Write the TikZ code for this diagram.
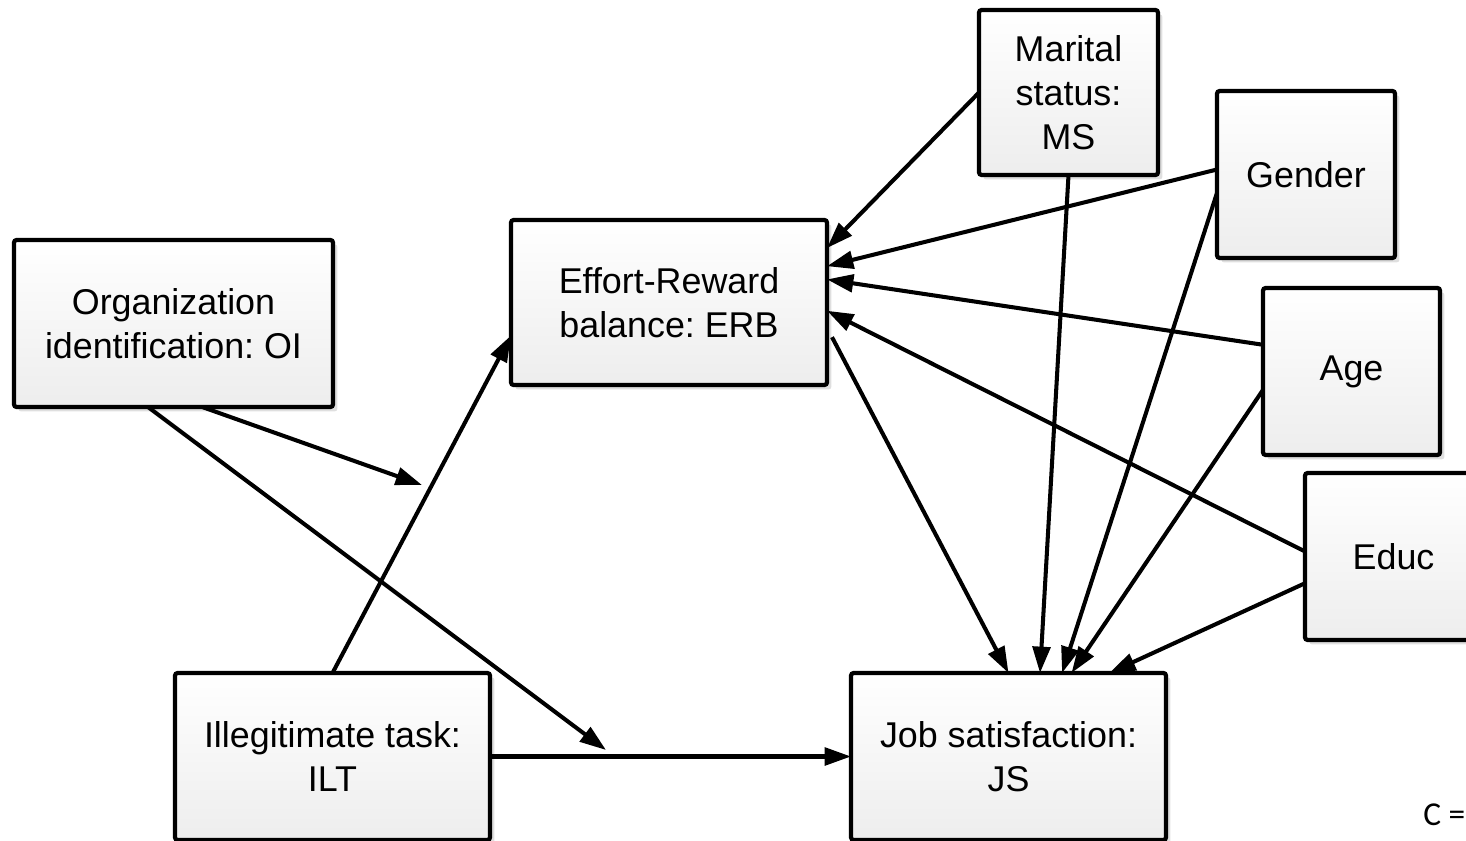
\documentclass[tikz,border=0pt]{standalone}
\usepackage{fontspec}
\setmainfont{Liberation Sans}
\newfontfamily\notefont{Carlito}
\usetikzlibrary{arrows.meta,shadows,calc}
\frenchspacing

\tikzset{
  px/.style={x=0.02cm,y=-0.02cm},
  varbox/.style 2 args={draw=black, line width=2.4pt, rounded corners=1.5pt,
    top color=white, bottom color=gray!14, shading angle=0,
    drop shadow={shadow xshift=2.5pt, shadow yshift=-2.5pt, fill=gray!25, opacity=1},
    minimum width={#1*0.02cm}, minimum height={#2*0.02cm},
    inner sep=0pt, outer sep=0pt, align=center,
    font=\fontsize{20.4}{25}\selectfont},
  path/.style={line width=2.3pt, -{Triangle[length=15pt,width=10pt]}},
}

\begin{document}
\begin{tikzpicture}[px]
\useasboundingbox (0,0) rectangle (1466,841);
\clip (0,0) rectangle (1466,841);

% variables
\node[varbox={319}{167}] (oi)  at (173.5,323.5) {Organization\\identification: OI};
\node[varbox={316}{165}] (erb) at (669,302.5)   {Effort-Reward\\balance: ERB};
\node[varbox={179}{165}] (ms)  at (1068.5,92.5) {Marital\\status:\\MS};
\node[varbox={178}{167}] (gen) at (1306,174.5)  {Gender};
\node[varbox={177}{167}] (age) at (1351.5,371.5){Age};
\node[varbox={177}{167}] (edu) at (1393.5,556.5){Educ};
\node[varbox={315}{167}] (ilt) at (332.5,756.5) {Illegitimate task:\\ILT};
\node[varbox={315}{167}] (js)  at (1008.5,756.5){Job satisfaction:\\JS};

% free ends of the moderation arrows
\coordinate (modA) at (422,485);
\coordinate (modB) at (606,750);

% moderation by organization identification
\draw[path] ($(oi.south west)!0.59!(oi.south east)$) -- (modA);
\draw[path] ($(oi.south west)!0.42!(oi.south east)$) -- (modB);

% main paths
\draw[path] (ilt.north) -- ($(erb.north west)!0.70!(erb.south west)$);
\draw[path] (ilt.east) -- (js.west);
\draw[path] ($(erb.north east)!0.71!(erb.south east)+(5,0)$) -- (js.north);

% control variables to ERB
\draw[path] (ms.west) -- ($(erb.north east)!0.17!(erb.south east)$);
\draw[path] ($(gen.north west)!0.47!(gen.south west)$) -- ($(erb.north east)!0.28!(erb.south east)$);
\draw[path] ($(age.north west)!0.34!(age.south west)$) -- ($(erb.north east)!0.36!(erb.south east)$);
\draw[path] ($(edu.north west)!0.47!(edu.south west)$) -- ($(erb.north east)!0.55!(erb.south east)$);

% control variables to JS
\draw[path] (ms.south) -- ($(js.north west)!0.60!(js.north east)$);
\draw[path] ($(gen.north west)!0.61!(gen.south west)$) -- ($(js.north west)!0.67!(js.north east)$);
\draw[path] ($(age.north west)!0.61!(age.south west)$) -- ($(js.north west)!0.70!(js.north east)$);
\draw[path] ($(edu.north west)!0.66!(edu.south west)$) -- ($(js.north west)!0.82!(js.north east)$);

% note
\node[anchor=west, inner sep=0pt, font=\notefont\fontsize{19}{22}\selectfont] (note) at (1423,815) {C =};
\end{tikzpicture}
\end{document}
